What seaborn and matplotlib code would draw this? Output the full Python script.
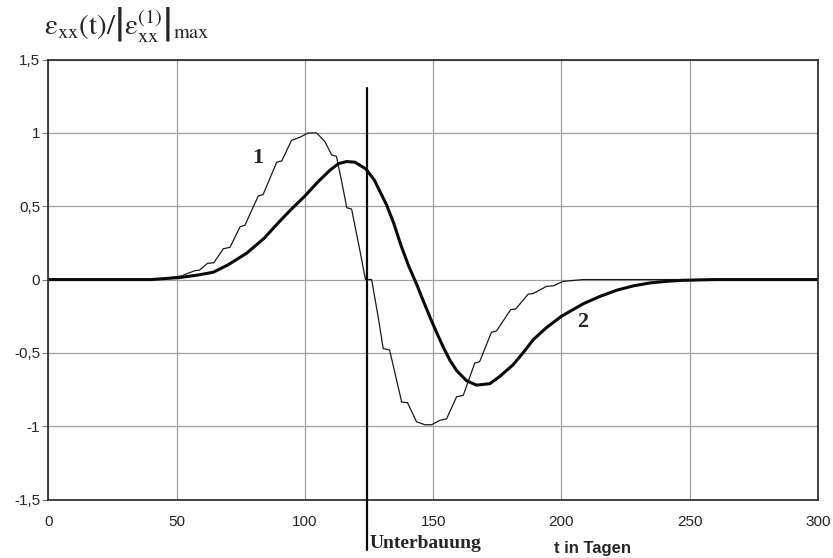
import matplotlib
matplotlib.use("Agg")
import matplotlib.pyplot as plt
import matplotlib.transforms as mtransforms
import seaborn as sns

# Curve 1: measured strain, stepwise response (time in days, normalised strain)
t1 = [0, 42, 46, 50, 52, 54, 57, 59, 62, 64.5, 68.2, 70.8, 74.7, 76.6, 81.8, 83.7,
      89, 91, 94.8, 98, 101.3, 104.6, 107.8, 110.4, 112.3, 114.3, 116.3, 118.2,
      121.4, 123.6, 126, 128.6, 130.5, 133, 137.7, 140, 143.5, 146.8, 149.4,
      152.6, 155.2, 159.1, 161.7, 166.2, 168.1, 172.7, 174.7, 180.2, 182.2, 187,
      189, 194.2, 196.8, 200.7, 208.5, 300]
e1 = [0, 0, 0.01, 0.02, 0.025, 0.04, 0.06, 0.065, 0.11, 0.115, 0.21, 0.22, 0.36, 0.37,
      0.57, 0.58, 0.80, 0.81, 0.95, 0.97, 1.0, 1.0, 0.94, 0.85, 0.84, 0.67, 0.49,
      0.48, 0.2, 0.0, 0.0, -0.26, -0.47, -0.48, -0.835, -0.84, -0.97, -0.99,
      -0.99, -0.96, -0.95, -0.80, -0.79, -0.57, -0.56, -0.36, -0.35, -0.205,
      -0.20, -0.10, -0.095, -0.046, -0.043, -0.012, 0.0, 0.0]

# Curve 2: smooth response
t2 = [0, 40, 51.3, 58, 64.3, 70, 77.3, 84, 90.3, 95, 100, 105, 109.7, 113, 116.3,
      119.5, 123.7, 127, 131.8, 134.5, 137.5, 140.5, 143.5, 146, 148.7, 151.3,
      153.9, 156.5, 159.1, 163, 166.9, 172.1, 176, 181.2, 185, 189, 194, 200,
      208.5, 215, 221.5, 228, 234.5, 241, 247.5, 260, 300]
e2 = [0, 0, 0.014, 0.03, 0.05, 0.10, 0.18, 0.28, 0.40, 0.485, 0.57, 0.665, 0.745,
      0.79, 0.805, 0.80, 0.755, 0.68, 0.51, 0.39, 0.23, 0.09, -0.03, -0.14,
      -0.255, -0.36, -0.46, -0.55, -0.62, -0.69, -0.72, -0.71, -0.66, -0.58,
      -0.50, -0.41, -0.33, -0.25, -0.165, -0.115, -0.073, -0.043, -0.023,
      -0.012, -0.005, 0.0, 0.0]

x_ticks = [0, 50, 100, 150, 200, 250, 300]
y_ticks = [-1.5, -1.0, -0.5, 0.0, 0.5, 1.0, 1.5]
y_tick_labels = ["-1,5", "-1", "-0,5", "0", "0,5", "1", "1,5"]

t_unterbauung = 124
unterbauung_top = 1.305

sns.set_style("white")
plt.rcParams["font.family"] = ["Liberation Sans", "DejaVu Sans"]
plt.rcParams["mathtext.fontset"] = "stix"

fig = plt.figure(figsize=(8.33, 5.58), dpi=100)
ax = fig.add_axes([0.0581, 0.1048, 0.9239, 0.7884])

ax.set_xlim(0, 300)
ax.set_ylim(-1.5, 1.5)
ax.set_xticks(x_ticks)
ax.set_xticklabels([str(v) for v in x_ticks])
ax.set_yticks(y_ticks)
ax.set_yticklabels(y_tick_labels)
ax.grid(True, color="#a0a0a0", lw=0.9)
ax.set_axisbelow(True)
for sp in ax.spines.values():
    sp.set_visible(True)
    sp.set_color("#333333")
    sp.set_linewidth(1.3)
ax.tick_params(axis="y", direction="out", length=4, width=0.8, color="#777777",
               pad=2, labelsize=11, left=True)
ax.tick_params(axis="x", length=0, pad=11, labelsize=11)

sns.lineplot(x=t1, y=e1, ax=ax, sort=False, estimator=None, color="#1a1a1a", lw=0.9)
sns.lineplot(x=t2, y=e2, ax=ax, sort=False, estimator=None, color="#0a0a0a", lw=2.2)

# Marker line for the start of the underpass works, running below the axis
blend = mtransforms.blended_transform_factory(ax.transData, fig.transFigure)
ax.plot([t_unterbauung, t_unterbauung], [unterbauung_top, -1.5], color="#0a0a0a",
        lw=1.6, clip_on=False, zorder=5)
fig.add_artist(plt.Line2D([t_unterbauung, t_unterbauung], [0.1048, 1 - 550 / 558],
                          transform=blend, color="#0a0a0a", lw=1.6))
fig.text(125.2, 1 - 544 / 558, "Unterbauung", transform=blend, ha="left",
         va="center", family="Liberation Serif", fontweight="bold", fontsize=14)
fig.text(593 / 833, 1 - 548 / 558, "t in Tagen", ha="center", va="center",
         fontweight="bold", fontsize=12)

ax.text(81.7, 0.83, "1", ha="center", va="center", family="Liberation Serif",
        fontweight="bold", fontsize=16)
ax.text(208.3, -0.29, "2", ha="center", va="center", family="Liberation Serif",
        fontweight="bold", fontsize=16)

fig.text(44 / 833, 1 - 34 / 558,
         r"$\mathrm{\varepsilon}_{\mathrm{xx}}\left(\mathrm{t}\right)/\left|\mathrm{\varepsilon}_{\mathrm{xx}}^{(1)}\right|_{\mathrm{max}}$",
         ha="left", va="baseline", fontsize=21)

fig.savefig("out.png", dpi=100)
